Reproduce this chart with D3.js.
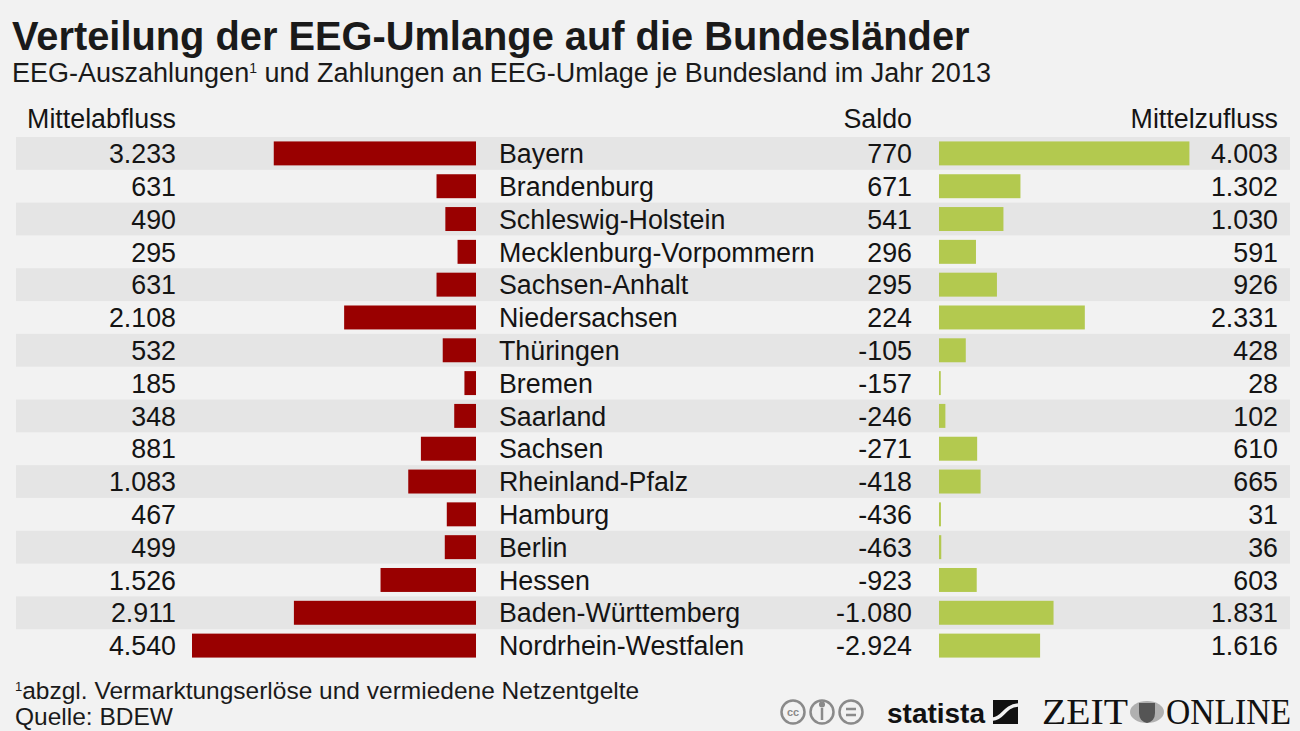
<!DOCTYPE html>
<html>
<head>
<meta charset="utf-8">
<script src="https://cdn.jsdelivr.net/npm/d3@7"></script>
<style>
  body { margin: 0; background: #f2f2f2; }
  svg { display: block; font-family: "Liberation Sans", Arial, sans-serif; }
  .cell { font-size: 26.8px; fill: #141414; }
</style>
</head>
<body>
<div id="chart"></div>
<script>
// data (values in Mio. Euro)
const states = ["Bayern", "Brandenburg", "Schleswig-Holstein", "Mecklenburg-Vorpommern", "Sachsen-Anhalt",
  "Niedersachsen", "Thüringen", "Bremen", "Saarland", "Sachsen", "Rheinland-Pfalz", "Hamburg", "Berlin",
  "Hessen", "Baden-Württemberg", "Nordrhein-Westfalen"];
const abfluss = [3233, 631, 490, 295, 631, 2108, 532, 185, 348, 881, 1083, 467, 499, 1526, 2911, 4540];
const saldo = [770, 671, 541, 296, 295, 224, -105, -157, -246, -271, -418, -436, -463, -923, -1080, -2924];
const zufluss = [4003, 1302, 1030, 591, 926, 2331, 428, 28, 102, 610, 665, 31, 36, 603, 1831, 1616];

const width = 1300, height = 731;
const de = d3.formatLocale({ decimal: ",", thousands: ".", grouping: [3], currency: ["", " €"], minus: "-" });
const fmt = de.format(",d");

const rows = states.map((s, i) => ({ name: s, ab: abfluss[i], saldo: saldo[i], zu: zufluss[i], i: i }));

const svg = d3.select("#chart").append("svg")
  .attr("width", width)
  .attr("height", height);

svg.append("rect").attr("width", width).attr("height", height).attr("fill", "#f2f2f2");

// scales
const y = d3.scaleBand().domain(states).range([137, 662]).padding(0);
const x = d3.scaleLinear().domain([0, 4540]).range([0, 284]);
const redEnd = 476, greenStart = 939;
const barPad = y.bandwidth() * 0.135;

// title
svg.append("text").attr("x", 12).attr("y", 50)
  .style("font-size", "39.8px").style("font-weight", "bold").attr("fill", "#1a1a1a")
  .text("Verteilung der EEG-Umlange auf die Bundesländer");
const sub = svg.append("text").attr("x", 12).attr("y", 82)
  .style("font-size", "27px").attr("fill", "#1a1a1a");
sub.append("tspan").text("EEG-Auszahlungen");
sub.append("tspan").attr("dy", -9).style("font-size", "14px").text("1");
sub.append("tspan").attr("dy", 9).text(" und Zahlungen an EEG-Umlage je Bundesland im Jahr 2013");

// header row
const headers = [
  { t: "Mittelabfluss", x: 176 },
  { t: "Saldo", x: 912 },
  { t: "Mittelzufluss", x: 1278 }
];
svg.selectAll(".head").data(headers).join("text")
  .attr("class", "cell head")
  .attr("x", d => d.x).attr("y", 128)
  .attr("text-anchor", "end")
  .text(d => d.t);

// stripes
svg.append("g").selectAll("rect")
  .data(rows.filter(d => d.i % 2 === 0))
  .join("rect")
  .attr("x", 16).attr("width", 1274)
  .attr("y", d => y(d.name)).attr("height", y.bandwidth())
  .attr("fill", "#e5e5e5");

// red bars
svg.append("g").selectAll("rect")
  .data(rows).join("rect")
  .attr("x", d => redEnd - x(d.ab))
  .attr("width", d => x(d.ab))
  .attr("y", d => y(d.name) + barPad)
  .attr("height", y.bandwidth() - 2 * barPad)
  .attr("fill", "#990000");

// green bars
svg.append("g").selectAll("rect")
  .data(rows).join("rect")
  .attr("x", greenStart)
  .attr("width", d => x(d.zu))
  .attr("y", d => y(d.name) + barPad)
  .attr("height", y.bandwidth() - 2 * barPad)
  .attr("fill", "#b3c94f");

// texts in the rows
const cy = d => y(d.name) + y.bandwidth() / 2 + 9.7;
const g = svg.append("g");
g.selectAll(".ab").data(rows).join("text").attr("class", "cell")
  .attr("x", 176).attr("y", cy).attr("text-anchor", "end").text(d => fmt(d.ab));
g.selectAll(".nm").data(rows).join("text").attr("class", "cell")
  .attr("x", 499).attr("y", cy).text(d => d.name);
g.selectAll(".sa").data(rows).join("text").attr("class", "cell")
  .attr("x", 912).attr("y", cy).attr("text-anchor", "end").text(d => fmt(d.saldo));
g.selectAll(".zu").data(rows).join("text").attr("class", "cell")
  .attr("x", 1278).attr("y", cy).attr("text-anchor", "end").text(d => fmt(d.zu));

// footnote and source
const fn = svg.append("text").attr("x", 15).attr("y", 699)
  .style("font-size", "24.5px").attr("fill", "#1a1a1a");
fn.append("tspan").attr("dy", -8).style("font-size", "13px").text("1");
fn.append("tspan").attr("dy", 8).text("abzgl. Vermarktungserlöse und vermiedene Netzentgelte");
svg.append("text").attr("x", 15).attr("y", 725)
  .style("font-size", "24.5px").attr("fill", "#1a1a1a")
  .text("Quelle: BDEW");

// licence icons
const cc = svg.append("g").attr("fill", "none").attr("stroke", "#8a8a8a").attr("stroke-width", 2.5);
[793, 822, 851].forEach(cx => {
  cc.append("circle").attr("cx", cx).attr("cy", 712).attr("r", 11.5);
});
svg.append("text").attr("x", 793).attr("y", 716).attr("text-anchor", "middle")
  .style("font-size", "11px").style("font-weight", "bold").attr("fill", "#8a8a8a").text("cc");
cc.append("circle").attr("cx", 822).attr("cy", 704.5).attr("r", 1.8).attr("fill", "#8a8a8a");
cc.append("line").attr("x1", 822).attr("x2", 822).attr("y1", 708).attr("y2", 720);
cc.append("line").attr("x1", 846).attr("x2", 856).attr("y1", 709).attr("y2", 709);
cc.append("line").attr("x1", 846).attr("x2", 856).attr("y1", 715).attr("y2", 715);

// statista logo
svg.append("text").attr("x", 887).attr("y", 723)
  .style("font-size", "27px").style("font-weight", "bold").attr("fill", "#111")
  .attr("textLength", 98).attr("lengthAdjust", "spacingAndGlyphs")
  .text("statista");
svg.append("rect").attr("x", 993).attr("y", 700).attr("width", 25).attr("height", 24).attr("fill", "#111");
svg.append("path")
  .attr("d", "M993,719 C1003,719 1004,706 1018,705")
  .attr("fill", "none").attr("stroke", "#f2f2f2").attr("stroke-width", 3.5);

// ZEIT ONLINE logo
svg.append("text").attr("x", 1042).attr("y", 724)
  .style("font-family", "'Liberation Serif', 'DejaVu Serif', serif").style("font-size", "35px")
  .attr("fill", "#111").attr("textLength", 86).attr("lengthAdjust", "spacingAndGlyphs")
  .text("ZEIT");
svg.append("text").attr("x", 1291).attr("y", 724).attr("text-anchor", "end")
  .style("font-family", "'Liberation Serif', 'DejaVu Serif', serif").style("font-size", "35px")
  .attr("fill", "#111").attr("textLength", 125).attr("lengthAdjust", "spacingAndGlyphs")
  .text("ONLINE");
const eagle = svg.append("g").attr("fill", "#7a7a7a");
eagle.append("ellipse").attr("cx", 1147).attr("cy", 712).attr("rx", 17).attr("ry", 11).attr("opacity", 0.55);
eagle.append("path").attr("d", "M1139,703 h16 v10 q0,8 -8,10 q-8,-2 -8,-10 z").attr("fill", "#555");
</script>
</body>
</html>
